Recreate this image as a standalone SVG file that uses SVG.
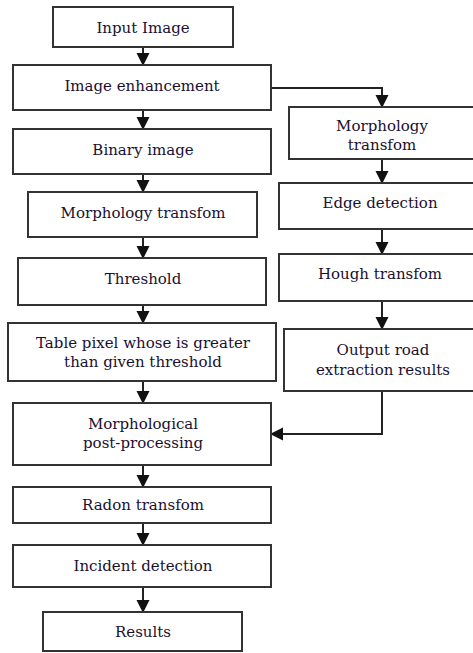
<svg xmlns="http://www.w3.org/2000/svg" width="473" height="653" viewBox="0 0 473 653">
<style>
.b{fill:#fff;stroke:#333;stroke-width:2}
.t{font-family:"DejaVu Serif","Liberation Serif",serif;font-size:15px;fill:#1a1030;text-anchor:middle}
.c{fill:none;stroke:#222;stroke-width:2}
</style>
<defs>
<marker id="ah" markerUnits="userSpaceOnUse" markerWidth="13" markerHeight="14" refX="12" refY="6.5" orient="auto" viewBox="0 0 13 13">
<path d="M0,0 L13,6.5 L0,13 Z" fill="#111"/>
</marker>
</defs>
<rect width="473" height="653" fill="#fff"/>
<g id="connectors">
<line class="c" x1="143" y1="47" x2="143" y2="65" marker-end="url(#ah)"/>
<line class="c" x1="143" y1="110" x2="143" y2="129" marker-end="url(#ah)"/>
<line class="c" x1="143" y1="174" x2="143" y2="192" marker-end="url(#ah)"/>
<line class="c" x1="143" y1="237" x2="143" y2="258" marker-end="url(#ah)"/>
<line class="c" x1="143" y1="305" x2="143" y2="323" marker-end="url(#ah)"/>
<line class="c" x1="143" y1="381" x2="143" y2="403" marker-end="url(#ah)"/>
<line class="c" x1="143" y1="465" x2="143" y2="487" marker-end="url(#ah)"/>
<line class="c" x1="143" y1="523" x2="143" y2="545" marker-end="url(#ah)"/>
<line class="c" x1="143" y1="587" x2="143" y2="612" marker-end="url(#ah)"/>
<polyline class="c" points="271,88 382,88 382,107" marker-end="url(#ah)"/>
<line class="c" x1="382" y1="159" x2="382" y2="183" marker-end="url(#ah)"/>
<line class="c" x1="382" y1="229" x2="382" y2="254" marker-end="url(#ah)"/>
<line class="c" x1="382" y1="301" x2="382" y2="329" marker-end="url(#ah)"/>
<polyline class="c" points="382,391 382,434 271,434" marker-end="url(#ah)"/>
</g>
<g id="input"><rect class="b" x="53" y="7" width="180" height="40"/><text class="t" x="143" y="33">Input Image</text></g>
<g id="enhance"><rect class="b" x="13" y="65" width="258" height="45"/><text class="t" x="142" y="91">Image enhancement</text></g>
<g id="binary"><rect class="b" x="13" y="129" width="258" height="45"/><text class="t" x="143" y="155">Binary image</text></g>
<g id="morph1"><rect class="b" x="28" y="192" width="229" height="45"/><text class="t" x="143" y="218">Morphology transfom</text></g>
<g id="threshold"><rect class="b" x="18" y="258" width="248" height="47"/><text class="t" x="143" y="284">Threshold</text></g>
<g id="table"><rect class="b" x="8" y="323" width="268" height="58"/><text class="t" x="143" y="348">Table pixel whose is greater</text><text class="t" x="143" y="367">than given threshold</text></g>
<g id="postproc"><rect class="b" x="13" y="403" width="258" height="62"/><text class="t" x="143" y="429">Morphological</text><text class="t" x="143" y="448">post-processing</text></g>
<g id="radon"><rect class="b" x="13" y="487" width="258" height="36"/><text class="t" x="143" y="510">Radon transfom</text></g>
<g id="incident"><rect class="b" x="13" y="545" width="258" height="42"/><text class="t" x="143" y="571">Incident detection</text></g>
<g id="results"><rect class="b" x="43" y="612" width="199" height="39"/><text class="t" x="143" y="637">Results</text></g>
<g id="morph2"><rect class="b" x="289" y="107" width="190" height="52"/><text class="t" x="382" y="131">Morphology</text><text class="t" x="382" y="150">transfom</text></g>
<g id="edge"><rect class="b" x="279" y="183" width="200" height="46"/><text class="t" x="380" y="208">Edge detection</text></g>
<g id="hough"><rect class="b" x="279" y="254" width="200" height="47"/><text class="t" x="380" y="279">Hough transfom</text></g>
<g id="output"><rect class="b" x="284" y="329" width="195" height="62"/><text class="t" x="383" y="355">Output road</text><text class="t" x="383" y="375">extraction results</text></g>
</svg>
